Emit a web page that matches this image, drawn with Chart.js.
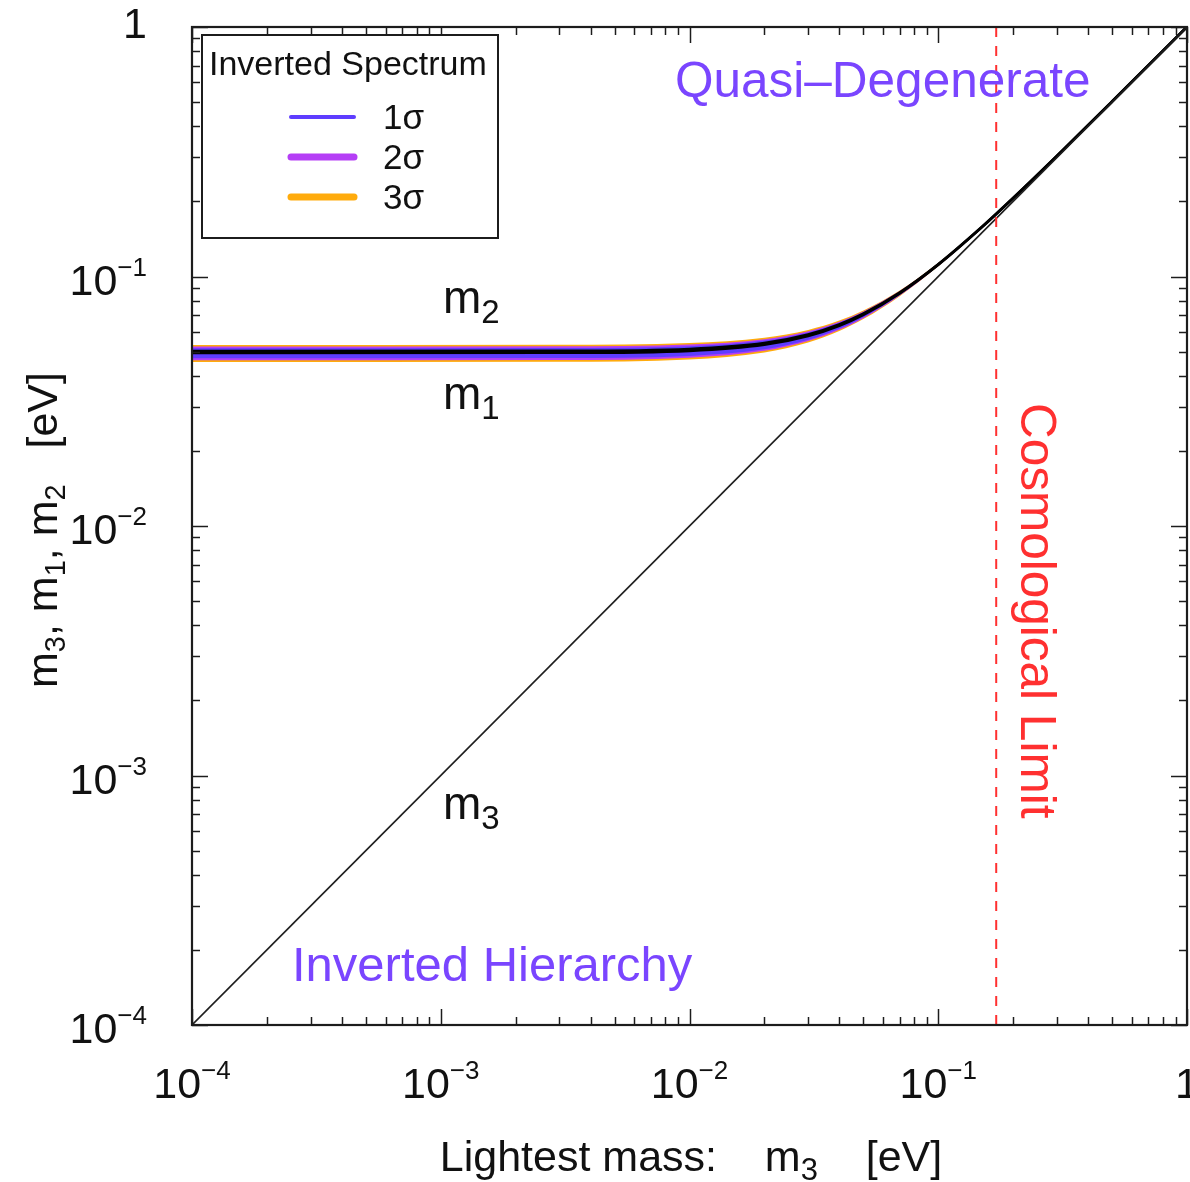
<!DOCTYPE html>
<html>
<head>
<meta charset="utf-8">
<script src="https://cdn.jsdelivr.net/npm/chart.js@4.4.1/dist/chart.umd.min.js"></script>
<style>
  html, body { margin: 0; padding: 0; background: #ffffff; }
  #wrap { width: 1190px; height: 1182px; position: relative; }
</style>
</head>
<body>
<div id="wrap"><canvas id="c" width="1190" height="1182"></canvas></div>
<script>
// Lightest neutrino mass m3 (eV) at which the inverted-spectrum masses are sampled
const lightestMass = [0.0001, 0.003, 0.01, 0.02, 0.03, 0.04, 0.05, 0.07, 0.1, 0.15, 0.2, 0.3, 0.5, 1];

// Band edges (eV) for the heavy pair m1, m2 at 1σ, 2σ, 3σ
const band3Low  = [0.0454, 0.0455, 0.04650, 0.0496, 0.0544, 0.06050, 0.0675, 0.08343, 0.10982, 0.15672, 0.20509, 0.30342, 0.50206, 1.00103];
const band2Low  = [0.0462, 0.0463, 0.04727, 0.05034, 0.05509, 0.06111, 0.06808, 0.08387, 0.11016, 0.15695, 0.20527, 0.30354, 0.50213, 1.00107];
const band1Low  = [0.0470, 0.0471, 0.04805, 0.05108, 0.05576, 0.06172, 0.06862, 0.08432, 0.11049, 0.15719, 0.20545, 0.30366, 0.50220, 1.00110];
const band1High = [0.0516, 0.05169, 0.05256, 0.05534, 0.05969, 0.06529, 0.07185, 0.08696, 0.11253, 0.15863, 0.20655, 0.30441, 0.50266, 1.00133];
const band2High = [0.0524, 0.05249, 0.05335, 0.05609, 0.06038, 0.06592, 0.07243, 0.08744, 0.11290, 0.15889, 0.20675, 0.30454, 0.50274, 1.00137];
const band3High = [0.0532, 0.05328, 0.05413, 0.05683, 0.06107, 0.06656, 0.07301, 0.08792, 0.11327, 0.15915, 0.20695, 0.30468, 0.50282, 1.00141];

// Central values of m1 and m2 (eV)
const m1Central = [0.0494, 0.04949, 0.05040, 0.05330, 0.05780, 0.06357, 0.07030, 0.08568, 0.11155, 0.15794, 0.20601, 0.30405, 0.50243, 1.00122];
const m2Central = [0.0502, 0.05029, 0.05119, 0.05404, 0.05848, 0.06419, 0.07085, 0.08614, 0.11189, 0.15818, 0.20620, 0.30417, 0.50251, 1.00126];

// m3 itself (the diagonal) and the cosmological bound on m3
const m3Line = [0.0001, 1];
const cosmoLimit = 0.171;

// Legend entries
const sigmaLabels = ['1σ', '2σ', '3σ'];
const sigmaColors = ['#5e3dff', '#b53ef6', '#ffab0c'];
const sigmaWidths = [4, 7, 7];

// Decade tick labels, shared by both axes
const decadeValues = [0.0001, 0.001, 0.01, 0.1, 1];
const tickBases = ['10', '10', '10', '10', '1'];
const tickExponents = ['−4', '−3', '−2', '−1', ''];

const FONT = '"Liberation Sans", Arial, Helvetica, sans-serif';
const NARROW = '"Liberation Sans Narrow", "Liberation Sans", Arial, sans-serif';
const PURPLE_TEXT = '#7a45ff';

const pts = arr => lightestMass.map((m, i) => ({ x: m, y: arr[i] }));

function bandEdge(arr, color, fillTo, order) {
  return {
    data: pts(arr),
    borderWidth: 0,
    borderColor: color,
    backgroundColor: color,
    pointRadius: 0,
    cubicInterpolationMode: 'monotone',
    fill: fillTo === null ? false : { target: fillTo },
    order: order
  };
}

const datasets = [
  bandEdge(band3Low, '#ffab0c', null, 20),        // 0
  bandEdge(band3High, '#ffab0c', 0, 20),          // 1
  bandEdge(band2Low, '#b53ef6', null, 18),        // 2
  bandEdge(band2High, '#b53ef6', 2, 18),          // 3
  bandEdge(band1Low, '#5e3dff', null, 16),        // 4
  bandEdge(band1High, '#5e3dff', 4, 16),          // 5
  {
    data: pts(m1Central), borderColor: '#000000', borderWidth: 2.8,
    pointRadius: 0, fill: false, cubicInterpolationMode: 'monotone', order: 10
  },
  {
    data: pts(m2Central), borderColor: '#000000', borderWidth: 2.8,
    pointRadius: 0, fill: false, cubicInterpolationMode: 'monotone', order: 9
  },
  {
    data: m3Line.map(v => ({ x: v, y: v })), borderColor: '#1e1e1e', borderWidth: 1.6,
    pointRadius: 0, fill: false, order: 8
  },
  {
    data: [{ x: cosmoLimit, y: 0.0001 }, { x: cosmoLimit, y: 1 }],
    borderColor: '#ff3030', borderWidth: 2, borderDash: [10, 9],
    pointRadius: 0, fill: false, order: 7
  }
];

// Rich text: runs of [text, size, baselineShift, font]
function runWidth(ctx, runs) {
  let w = 0;
  for (const r of runs) { ctx.font = r[1] + 'px ' + (r[3] || FONT); w += ctx.measureText(r[0]).width; }
  return w;
}
function drawRuns(ctx, runs, x, y, align) {
  const w = runWidth(ctx, runs);
  let cx = align === 'right' ? x - w : align === 'center' ? x - w / 2 : x;
  ctx.textAlign = 'left';
  ctx.textBaseline = 'alphabetic';
  for (const r of runs) {
    ctx.font = r[1] + 'px ' + (r[3] || FONT);
    ctx.fillText(r[0], cx, y + (r[2] || 0));
    cx += ctx.measureText(r[0]).width;
  }
}
function powRuns(i) {
  const runs = [[tickBases[i], 43, 0, NARROW]];
  if (tickExponents[i]) runs.push([tickExponents[i], 26, -19, NARROW]);
  return runs;
}

// Frame with inward ticks on all four sides, plus the decade labels
const framePlugin = {
  id: 'frame',
  afterDatasetsDraw(chart) {
    const { ctx, chartArea: a, scales: { x, y } } = chart;
    ctx.save();
    ctx.strokeStyle = '#1c1c1c';
    ctx.lineWidth = 1.5;
    const seg = (x1, y1, x2, y2) => { ctx.beginPath(); ctx.moveTo(x1, y1); ctx.lineTo(x2, y2); ctx.stroke(); };
    for (let d = -4; d <= 0; d++) {
      for (let k = 1; k <= 9; k++) {
        const v = k * Math.pow(10, d);
        if (v > 1.000001) break;
        const len = k === 1 ? 16 : 8;
        const px = Math.round(x.getPixelForValue(v)) + 0.5;
        const py = Math.round(y.getPixelForValue(v)) + 0.5;
        seg(px, a.bottom, px, a.bottom - len);
        seg(px, a.top, px, a.top + len);
        seg(a.left, py, a.left + len, py);
        seg(a.right, py, a.right - len, py);
      }
    }
    ctx.lineWidth = 2.2;
    ctx.strokeRect(a.left, a.top, a.right - a.left, a.bottom - a.top);

    ctx.fillStyle = '#111111';
    decadeValues.forEach((v, i) => {
      // x axis
      drawRuns(ctx, powRuns(i), x.getPixelForValue(v), a.bottom + 73, 'center');
      // y axis
      const py = y.getPixelForValue(v);
      drawRuns(ctx, powRuns(i), 147, py + (tickExponents[i] ? 18 : 11), 'right');
    });
    ctx.restore();
  },
  afterDraw(chart) {
    const { ctx } = chart;
    ctx.save();
    ctx.fillStyle = '#111111';

    // Axis titles
    drawRuns(ctx, [['Lightest mass:    m', 43], ['3', 31, 9], ['    [eV]', 43]], 691, 1171, 'center');
    ctx.save();
    ctx.translate(57, 530);
    ctx.rotate(-Math.PI / 2);
    drawRuns(ctx, [['m', 43], ['3', 29, 8], [', m', 43], ['1', 29, 8], [', m', 43], ['2', 29, 8], ['   [eV]', 43]], 0, 0, 'center');
    ctx.restore();

    // Curve labels
    drawRuns(ctx, [['m', 46], ['2', 33, 10]], 443, 313, 'left');
    drawRuns(ctx, [['m', 46], ['1', 33, 10]], 443, 409, 'left');
    drawRuns(ctx, [['m', 46], ['3', 33, 10]], 443, 819, 'left');

    // Region labels
    ctx.fillStyle = PURPLE_TEXT;
    drawRuns(ctx, [['Quasi–Degenerate', 49.5]], 675, 97, 'left');
    drawRuns(ctx, [['Inverted Hierarchy', 49]], 292, 981, 'left');

    ctx.fillStyle = '#ff3030';
    ctx.save();
    ctx.translate(1021, 403);
    ctx.rotate(Math.PI / 2);
    drawRuns(ctx, [['Cosmological Limit', 49.5]], 0, 0, 'left');
    ctx.restore();

    // Legend box
    ctx.fillStyle = '#ffffff';
    ctx.fillRect(202, 35, 296, 203);
    ctx.strokeStyle = '#1c1c1c';
    ctx.lineWidth = 2;
    ctx.strokeRect(202, 35, 296, 203);
    ctx.fillStyle = '#111111';
    drawRuns(ctx, [['Inverted Spectrum', 34]], 209, 75, 'left');
    sigmaLabels.forEach((lab, i) => {
      const ly = 117 + i * 40;
      ctx.strokeStyle = sigmaColors[i];
      ctx.lineWidth = sigmaWidths[i];
      ctx.lineCap = 'round';
      ctx.beginPath(); ctx.moveTo(291, ly); ctx.lineTo(354, ly); ctx.stroke();
      ctx.fillStyle = '#111111';
      drawRuns(ctx, [[lab, 35]], 383, ly + 12, 'left');
    });
    ctx.restore();
  }
};

new Chart(document.getElementById('c'), {
  type: 'line',
  data: { datasets },
  options: {
    responsive: false,
    animation: false,
    devicePixelRatio: 1,
    layout: { padding: { left: 192, top: 27, right: 3, bottom: 157 } },
    plugins: { legend: { display: false }, tooltip: { enabled: false }, filler: { propagate: false } },
    scales: {
      x: { type: 'logarithmic', min: 0.0001, max: 1, display: false },
      y: { type: 'logarithmic', min: 0.0001, max: 1, display: false }
    }
  },
  plugins: [framePlugin]
});
</script>
</body>
</html>
